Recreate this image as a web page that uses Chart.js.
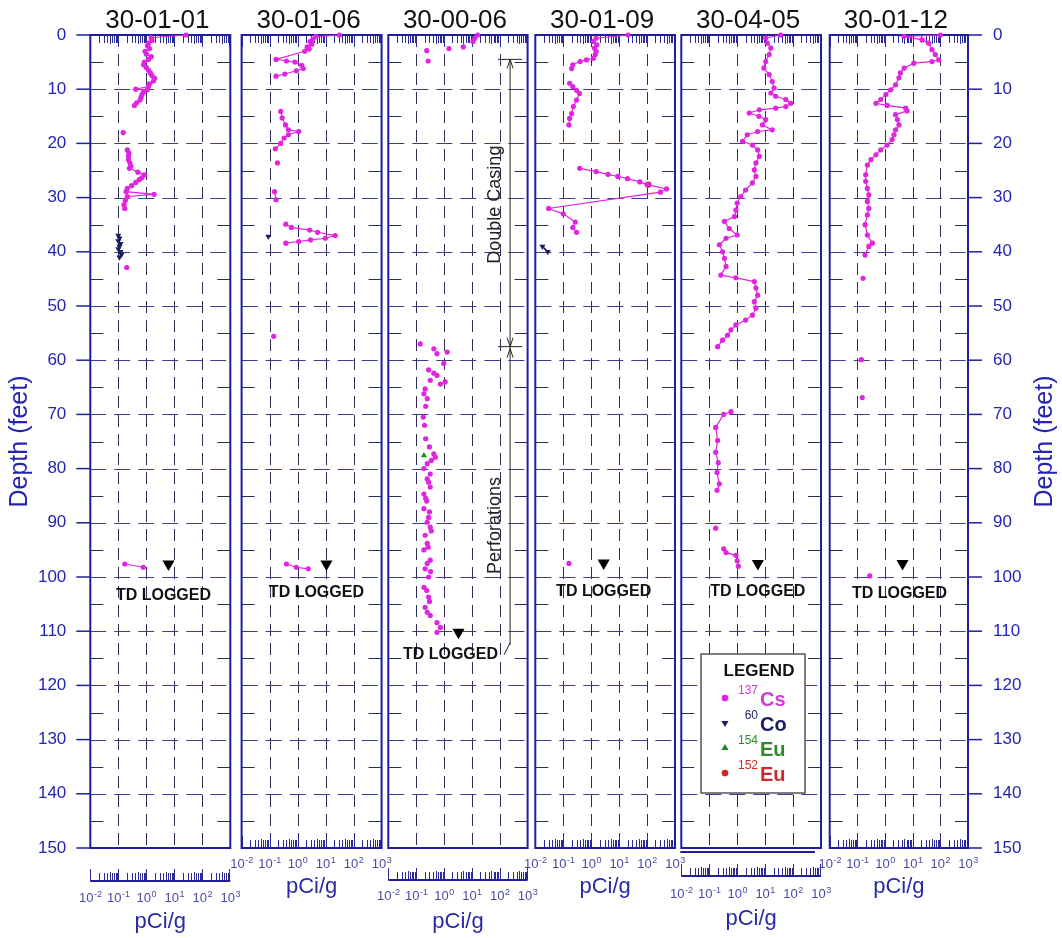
<!DOCTYPE html>
<html>
<head>
<meta charset="utf-8">
<script src="https://cdn.jsdelivr.net/npm/chart.js@4/dist/chart.umd.min.js"></script>
<style>
  body { margin: 0; background: #fff; }
  #wrap { position: relative; width: 1062px; height: 938px; }
  #wrap canvas { position: absolute; left: 0; top: 0; }
</style>
</head>
<body>
<div id="wrap"></div>
<script>
// ---- data (depth in feet, activity in pCi/g); null breaks a line ----
const wellNames = ['30-01-01', '30-01-06', '30-00-06', '30-01-09', '30-04-05', '30-01-12'];
const depthTicks = [0, 10, 20, 30, 40, 50, 60, 70, 80, 90, 100, 110, 120, 130, 140, 150];
const decadeExp = [-2, -1, 0, 1, 2, 3];

const cs0101Depth = [0, 0.5, 1, 1.5, 2, 2.5, 3, 3.5, 4, 4.5, 5, 5.5, 6, 6.5, 7, 7.5, 8, 8.5, 9, 9.5, 10, 10.1, 10.5, 11, 11.5, 12, 12.5, 13, null,
  18, null,
  21.2, 21.8, 22.4, 23, 23.6, 24.2, 24.6, 25.3, 25.8, 26.3, 26.7, 27.2, 27.8, 28.3, 28.9, 29.4, 29.8, 30.5, 31.3, 32, null,
  42.9, null, 97.6, 98.2];
const cs0101Pci = [26, 1.5, 1.6, 1.2, 1.1, 1.3, 0.9, 1.0, 1.5, 1.2, 0.85, 0.8, 1.0, 1.2, 1.4, 1.6, 2.0, 1.8, 1.3, 1.2, 0.42, 1.1, 0.8, 0.7, 0.65, 0.6, 0.45, 0.38, null,
  0.15, null,
  0.21, 0.24, 0.23, 0.23, 0.26, 0.28, 0.25, 0.5, 0.85, 0.7, 0.56, 0.42, 0.3, 0.21, 0.19, 1.9, 0.21, 0.18, 0.16, 0.17, null,
  0.2, null, 0.17, 0.78];
const co0101Depth = [37, 37.5, 38, 38.5, 39, 39.5, 40, 40.5, 41];
const co0101Pci = [0.1, 0.11, 0.1, 0.12, 0.11, 0.1, 0.12, 0.13, 0.11];

const cs0106Depth = [0, 0.3, 0.8, 1.2, 1.7, 2.2, 2.6, 3.0, 4.5, 4.8, 5.0, 5.6, 6.2, 6.6, 7.2, 7.6, null,
  14.1, 15.3, 16.6, 17.5, 17.8, 18.4, 19, 20, 21, null, 23.6, null, 28.9, 30.4, null,
  34.9, 35.5, 36, 36.4, 37, 37.5, 37.8, 38.1, 38.4, null, 55.6, null, 97.6, 98.2, 98.5];
const cs0106Pci = [31, 4.5, 3.5, 2.8, 3.2, 2.2, 2.6, 1.8, 0.17, 0.4, 0.8, 1.4, 1.6, 0.9, 0.35, 0.17, null,
  0.25, 0.28, 0.37, 0.47, 1.1, 0.47, 0.33, 0.25, 0.16, null, 0.19, null, 0.15, 0.17, null,
  0.38, 0.6, 2.7, 5.2, 22, 9.8, 2.9, 1.1, 0.38, null, 0.14, null, 0.4, 0.9, 2.4];
const co0106Depth = [37.2];
const co0106Pci = [0.09];

const cs0006Depth = [0, 0.6, 1.2, 2.2, 2.5, 2.9, 4.8, 57, 57.9, 58.5, 58.8, 60.6, 61.8, 62.4, 62.8, 63.7, 64, 64.4, 65.3, 66.2, 67.1, 68.5,
  70.5, 72, 74.5, 76, 77.3, 77.9, 78.5, 79.1, 80, 81, 81.9, 82.5, 83.4, 84.7, 85.5, 86, 87.4, 88, 89, 89.9, 90.8, 91.5, 92.3, 93.8,
  94.5, 95, 96.9, 97.5, 98.5, 99, 100, 101.9, 102.5, 103.7, 104.5, 105.6, 106.5, 107.1, 108.4, 109.3, 110.2];
const cs0006Pci = [16, 12.7, 11, 4.9, 1.5, 0.24, 0.27, 0.14, 0.43, 1.3, 0.56, 0.98, 0.28, 0.43, 0.56, 0.32, 1.1, 0.74, 0.21, 0.19, 0.25, 0.22,
  0.18, 0.2, 0.22, 0.3, 0.43, 0.49, 0.35, 0.25, 0.19, 0.32, 0.25, 0.28, 0.32, 0.19, 0.22, 0.24, 0.19, 0.3, 0.28, 0.25, 0.32, 0.35, 0.21, 0.25,
  0.27, 0.19, 0.32, 0.25, 0.21, 0.33, 0.28, 0.19, 0.24, 0.28, 0.3, 0.21, 0.25, 0.32, 0.56, 0.74, 0.56];
const eu154_0006Depth = [77.6];
const eu154_0006Pci = [0.19];

const cs0109Depth = [0, 0.6, 1.2, 1.8, 2.4, 3.0, 3.6, 4.3, 4.6, 4.9, 5.5, 6.2, null,
  8.9, 9.5, 10.2, 10.8, 12, 13.2, 14.5, 15.4, 16.6, null,
  24.6, 25.2, 25.7, 26.1, 26.5, 27.1, 27.6, 28.4, 29.0, 32, 33, 34.5, 35.5, 36.4, null, 97.5];
const cs0109Pci = [21, 1.5, 1.2, 1.6, 1.3, 1.5, 1.4, 1.2, 0.68, 0.4, 0.22, 0.2, null,
  0.17, 0.22, 0.3, 0.38, 0.3, 0.23, 0.2, 0.17, 0.16, null,
  0.39, 1.5, 4, 9, 20, 55, 100, 500, 300, 0.03, 0.1, 0.27, 0.22, 0.3, null, 0.16];
const co0109Depth = [39, 40];
const co0109Pci = [0.018, 0.028];
const eu152_0109Depth = [27.6];
const eu152_0109Pci = [110];

const cs0405Depth = [0, 0.55, 1.5, 2.4, 3.6, 4.9, 6.1, 7.3, 8.6, 9.8, 10.7, 11.3, 11.9, 12.6, 13.2, 13.5, 13.8, 14.4, 15, 15.6, 16.6, 17.5,
  17.8, 18.4, 19.6, 20.3, 21.2, 22.4, 23.6, 24.9, 26.1, 27.3, 28.6, 29.8, 31, 32.3, 33.5, 34.4, 35.7, 36.9, 37.5, 38.7, 40, 41.2,
  42.7, 44.3, 44.8, 45.5, 46.7, 48, 49.2, 50.4, 51.7, 52.6, 53.5, 54.4, 55.4, 56.3, 57.5, null,
  69.5, 70, 72.4, 74.8, 77, 78.9, 80.7, 82.8, 84, null, 91, null, 94.8, 95.5, 96, 97, 98];
const cs0405Pci = [36, 10.5, 12, 16, 14, 10.5, 9, 14, 18, 21, 16, 24, 55, 83, 55, 24, 6.2, 2.7, 6, 10.5, 8, 18,
  5.4, 2.3, 1.55, 3.5, 5.4, 6.2, 4.7, 4.1, 4.7, 3.5, 2, 1.35, 1, 0.9, 0.8, 0.35, 0.52, 1.0, 0.4, 0.23, 0.3, 0.35,
  0.4, 0.26, 0.9, 4.1, 4.7, 5.4, 4.1, 4.7, 3.5, 2, 0.9, 0.6, 0.45, 0.3, 0.2, null,
  0.6, 0.33, 0.17, 0.2, 0.17, 0.21, 0.19, 0.23, 0.19, null, 0.17, null, 0.33, 0.4, 0.9, 1.0, 1.1];

const cs0112Depth = [0, 0.25, 0.9, 1.5, 2.7, 3.6, 4.6, 4.9, 5.2, 6.1, 7, 7.9, 9.2, 10.1, 11, 11.9, 12.6, 13, 13.5, 14, 14.7, 15.6,
  16.6, 17.5, 18.4, 19.3, 20.3, 21.2, 22.1, 23, 24, 25.8, 27, 28.3, 29.5, 30.7, 32, 33.2, 35, 36.9, 38.4, 39, 40.6, null,
  44.9, null, 59.9, null, 66.9, null, 99.8];
const cs0112Pci = [100, 4.9, 22, 38, 50, 66, 87, 50, 11, 4.9, 3.6, 3.2, 2.4, 1.6, 1.07, 0.7, 0.47, 1.2, 5.6, 6.3, 2.4, 2.8,
  3.2, 2.4, 2.1, 1.8, 1.2, 0.7, 0.47, 0.31, 0.23, 0.2, 0.2, 0.23, 0.26, 0.23, 0.26, 0.23, 0.19, 0.23, 0.35, 0.26, 0.19, null,
  0.16, null, 0.14, null, 0.15, null, 0.28];

// total depth logged markers, one per well
const tdDepth = [97.6, 97.6, 110.2, 97.4, 97.5, 97.5];
const tdPci = [6.2, 10.7, 3.3, 2.8, 5.5, 4.3];

// ---- layout ----
const panelLeft = [90.3, 241.6, 388.3, 535.3, 681.3, 829.7];
const panelRight = [230.3, 381.6, 527.6, 675, 821, 968];
const PANEL_TOP = 35, PANEL_BOTTOM = 848;
const rulerY = [881, 848, 880, 848, 876, 848];
const labelY = [897, 863, 895, 863, 893, 863];
const unitY = [921, 886, 921, 886, 918, 886];
const tdLabelDx = [-5, -10, -8, 0, 0, -3];
const tdLabelDy = [32, 29, 22, 29, 28, 30];

const NAVY = '#1f1f9e';
const TICK = '#2b2b95';
const GRID_V = '#2c2c55';
const GRID_H = '#3c3c88';
const CS = '#e024e0';
const CO = '#1b1b66';
const EU154 = '#1e8a1e';
const EU152 = '#d22424';
const FONT = '"Liberation Sans", Arial, sans-serif';

function pts(d, v) { return d.map((y, i) => ({ x: v[i], y: y })); }

function line(ctx, x1, y1, x2, y2) {
  ctx.beginPath(); ctx.moveTo(x1, y1); ctx.lineTo(x2, y2); ctx.stroke();
}

function supText(ctx, base, exp, cx, y, baseSize, expSize) {
  ctx.font = baseSize + 'px ' + FONT;
  const wb = ctx.measureText(base).width;
  ctx.font = expSize + 'px ' + FONT;
  const we = ctx.measureText(exp).width;
  const x0 = cx - (wb + we) / 2;
  ctx.textAlign = 'left';
  ctx.font = baseSize + 'px ' + FONT;
  ctx.fillText(base, x0, y);
  ctx.font = expSize + 'px ' + FONT;
  ctx.fillText(exp, x0 + wb + 0.5, y - baseSize * 0.4);
}

function drawRuler(ctx, x, base, dir) {
  ctx.strokeStyle = TICK;
  ctx.lineWidth = 1;
  for (let d = -2; d <= 2; d++) {
    for (let k = 1; k <= 9; k++) {
      const px = Math.round(x.getPixelForValue(k * Math.pow(10, d))) + 0.5;
      const len = k === 1 ? 12 : (k === 5 ? 9 : 8);
      line(ctx, px, base, px, base + dir * len);
    }
  }
  const pe = Math.round(x.getPixelForValue(1000)) - 0.5;
  line(ctx, pe, base, pe, base + dir * 12);
}

function panelPlugin(i) {
  return {
    id: 'panel' + i,
    beforeDatasetsDraw(chart) {
      const { ctx, chartArea: a, scales: { x, y } } = chart;
      ctx.save();
      ctx.lineWidth = 1;
      // vertical decade grid
      ctx.strokeStyle = GRID_V;
      ctx.setLineDash([12, 7]);
      [0.1, 1, 10, 100].forEach(v => {
        const px = Math.round(x.getPixelForValue(v)) + 0.5;
        line(ctx, px, a.top, px, a.bottom);
      });
      // horizontal depth grid
      ctx.strokeStyle = GRID_H;
      ctx.setLineDash([16, 8]);
      depthTicks.slice(1, -1).forEach(t => {
        const py = Math.round(y.getPixelForValue(t)) + 0.5;
        line(ctx, a.left, py, a.right, py);
      });
      ctx.setLineDash([]);
      ctx.strokeStyle = GRID_V;
      depthTicks.slice(0, -1).forEach(t => {
        const py = Math.round(y.getPixelForValue(t + 5)) + 0.5;
        line(ctx, a.left, py, a.left + 13, py);
        line(ctx, a.right - 13, py, a.right, py);
      });
      // top ruler
      drawRuler(ctx, x, a.top, 1);
      // bottom ruler
      const base = rulerY[i];
      drawRuler(ctx, x, base, -1);
      ctx.strokeStyle = NAVY;
      ctx.lineWidth = 2;
      if (base !== PANEL_BOTTOM) line(ctx, a.left, base, a.right, base);
      if (i === 4) line(ctx, a.left - 1, 852, a.right - 6, 852);
      ctx.strokeRect(a.left, a.top, a.right - a.left, a.bottom - a.top);

      // decade labels and unit
      ctx.fillStyle = '#4a4aa0';
      ctx.textBaseline = 'alphabetic';
      decadeExp.forEach(e => {
        const px = x.getPixelForValue(Math.pow(10, e));
        supText(ctx, '10', String(e), px, labelY[i] + 5, 13, 9);
      });
      ctx.fillStyle = '#2a2aa4';
      ctx.font = '22px ' + FONT;
      ctx.textAlign = 'center';
      ctx.fillText('pCi/g', (a.left + a.right) / 2, unitY[i] + 7);

      // title
      ctx.fillStyle = '#111';
      ctx.font = '26px ' + FONT;
      ctx.fillText(wellNames[i], (a.left + a.right) / 2 - 3, 28);

      // depth axes
      ctx.fillStyle = '#2424b4';
      ctx.strokeStyle = NAVY;
      ctx.lineWidth = 1.5;
      ctx.font = '17px ' + FONT;
      ctx.textBaseline = 'middle';
      if (i === 0) {
        ctx.textAlign = 'right';
        depthTicks.forEach(t => {
          const py = y.getPixelForValue(t);
          line(ctx, a.left - 14, py, a.left, py);
          ctx.fillText(String(t), a.left - 24, py);
        });
        ctx.save();
        ctx.translate(20, (a.top + a.bottom) / 2);
        ctx.rotate(-Math.PI / 2);
        ctx.textAlign = 'center';
        ctx.font = '25px ' + FONT;
        ctx.fillText('Depth (feet)', 0, 0);
        ctx.restore();
      }
      if (i === 5) {
        ctx.textAlign = 'left';
        depthTicks.forEach(t => {
          const py = y.getPixelForValue(t);
          line(ctx, a.right, py, a.right + 14, py);
          ctx.fillText(String(t), a.right + 25, py);
        });
        ctx.save();
        ctx.translate(1045, (a.top + a.bottom) / 2);
        ctx.rotate(-Math.PI / 2);
        ctx.textAlign = 'center';
        ctx.font = '25px ' + FONT;
        ctx.fillText('Depth (feet)', 0, 0);
        ctx.restore();
      }

      // casing / perforation brackets on 30-00-06
      if (i === 2) {
        const ax = a.right - 17.5;
        const yTop = y.getPixelForValue(4.5), yMid = y.getPixelForValue(57.5), yEnd = y.getPixelForValue(112.5);
        ctx.strokeStyle = '#222';
        ctx.lineWidth = 1;
        line(ctx, ax, yTop, ax, yEnd);
        line(ctx, ax - 12, yTop, ax + 12, yTop);
        line(ctx, ax - 12, yMid, ax + 12, yMid);
        const head = (yy, dir) => { line(ctx, ax - 3, yy + dir * 9, ax, yy); line(ctx, ax + 3, yy + dir * 9, ax, yy); };
        head(yTop, 1); head(yMid, -1); head(yMid + 2, 1);
        line(ctx, ax - 6, yEnd + 10, ax, yEnd - 2);
        ctx.fillStyle = '#222';
        ctx.font = '18px ' + FONT;
        ctx.textAlign = 'center';
        ctx.save();
        ctx.translate(ax - 15, y.getPixelForValue(31.3));
        ctx.rotate(-Math.PI / 2);
        ctx.fillText('Double Casing', 0, 0);
        ctx.restore();
        ctx.save();
        ctx.translate(ax - 15, y.getPixelForValue(90.5));
        ctx.rotate(-Math.PI / 2);
        ctx.fillText('Perforations', 0, 0);
        ctx.restore();
      }
      ctx.restore();
    },
    afterDatasetsDraw(chart) {
      const { ctx, scales: { x, y } } = chart;
      ctx.save();
      // TD LOGGED label
      ctx.fillStyle = '#111';
      ctx.font = 'bold 16px ' + FONT;
      ctx.textAlign = 'center';
      ctx.textBaseline = 'middle';
      const tx = x.getPixelForValue(tdPci[i]) + tdLabelDx[i];
      const ty = y.getPixelForValue(tdDepth[i]) + tdLabelDy[i];
      ctx.fillText('TD LOGGED', tx, ty);

      // legend on 30-04-05
      if (i === 4) {
        const bx = 701, by = 654, bw = 104, bh = 139;
        ctx.fillStyle = '#fff';
        ctx.fillRect(bx, by, bw, bh);
        ctx.strokeStyle = '#555';
        ctx.lineWidth = 1.5;
        ctx.strokeRect(bx, by, bw, bh);
        ctx.fillStyle = '#111';
        ctx.font = 'bold 17px ' + FONT;
        ctx.textBaseline = 'alphabetic';
        ctx.fillText('LEGEND', bx + bw / 2 + 6, by + 22);
        const rows = [
          ['137', 'Cs', CS, 'circle', 0, '#d23ad2'],
          ['60', 'Co', CO, 'triangle', 180, CO],
          ['154', 'Eu', EU154, 'triangle', 0, '#2a8a2a'],
          ['152', 'Eu', EU152, 'circle', 0, '#cc2a2a']
        ];
        rows.forEach((r, k) => {
          const ry = by + 44 + k * 25;
          ctx.fillStyle = r[2];
          ctx.strokeStyle = r[2];
          Chart.helpers.drawPoint(ctx, { pointStyle: r[3], radius: 2.6, rotation: r[4], borderWidth: 1 }, bx + 24, ry);
          ctx.fillStyle = r[5];
          ctx.textAlign = 'right';
          ctx.font = '12px ' + FONT;
          ctx.fillText(r[0], bx + 57, ry - 4);
          ctx.textAlign = 'left';
          ctx.font = 'bold 20px ' + FONT;
          ctx.fillText(r[1], bx + 59, ry + 8);
        });
      }
      ctx.restore();
    }
  };
}

const wells = [
  { cs: pts(cs0101Depth, cs0101Pci), co: pts(co0101Depth, co0101Pci), eu154: [], eu152: [], csLine: true },
  { cs: pts(cs0106Depth, cs0106Pci), co: pts(co0106Depth, co0106Pci), eu154: [], eu152: [], csLine: true },
  { cs: pts(cs0006Depth, cs0006Pci), co: [], eu154: pts(eu154_0006Depth, eu154_0006Pci), eu152: [], csLine: false },
  { cs: pts(cs0109Depth, cs0109Pci), co: pts(co0109Depth, co0109Pci), eu154: [], eu152: pts(eu152_0109Depth, eu152_0109Pci), csLine: true },
  { cs: pts(cs0405Depth, cs0405Pci), co: [], eu154: [], eu152: [], csLine: true },
  { cs: pts(cs0112Depth, cs0112Pci), co: [], eu154: [], eu152: [], csLine: true }
];

const wrap = document.getElementById('wrap');
wells.forEach((w, i) => {
  const cv = document.createElement('canvas');
  cv.width = 1062; cv.height = 938;
  wrap.appendChild(cv);
  new Chart(cv.getContext('2d'), {
    type: 'scatter',
    data: {
      datasets: [
        { label: 'Cs-137', data: w.cs, showLine: w.csLine, spanGaps: false, borderColor: CS, backgroundColor: CS,
          borderWidth: 1.2, pointRadius: 2.6, pointBorderWidth: 0, clip: false },
        { label: 'Co-60', data: w.co, showLine: true, borderColor: CO, backgroundColor: CO, borderWidth: 1.5,
          pointStyle: 'triangle', rotation: 180, pointRadius: 3.5, pointBorderWidth: 0, clip: false },
        { label: 'Eu-154', data: w.eu154, borderColor: EU154, backgroundColor: EU154,
          pointStyle: 'triangle', pointRadius: 3.5, pointBorderWidth: 0, clip: false },
        { label: 'Eu-152', data: w.eu152, borderColor: EU152, backgroundColor: EU152,
          pointRadius: 3.2, pointBorderWidth: 0, clip: false },
        { label: 'TD', data: [{ x: tdPci[i], y: tdDepth[i] }], borderColor: '#000', backgroundColor: '#000',
          pointStyle: 'triangle', rotation: 180, pointRadius: 7, pointBorderWidth: 0, clip: false }
      ]
    },
    options: {
      responsive: false,
      animation: false,
      events: [],
      layout: {
        autoPadding: false,
        padding: { left: panelLeft[i], right: 1062 - panelRight[i], top: PANEL_TOP, bottom: 938 - PANEL_BOTTOM }
      },
      plugins: { legend: { display: false }, tooltip: { enabled: false } },
      scales: {
        x: { type: 'logarithmic', min: 0.01, max: 1000, display: false },
        y: { type: 'linear', min: 0, max: 150, reverse: true, display: false }
      }
    },
    plugins: [panelPlugin(i)]
  });
});
</script>
</body>
</html>
